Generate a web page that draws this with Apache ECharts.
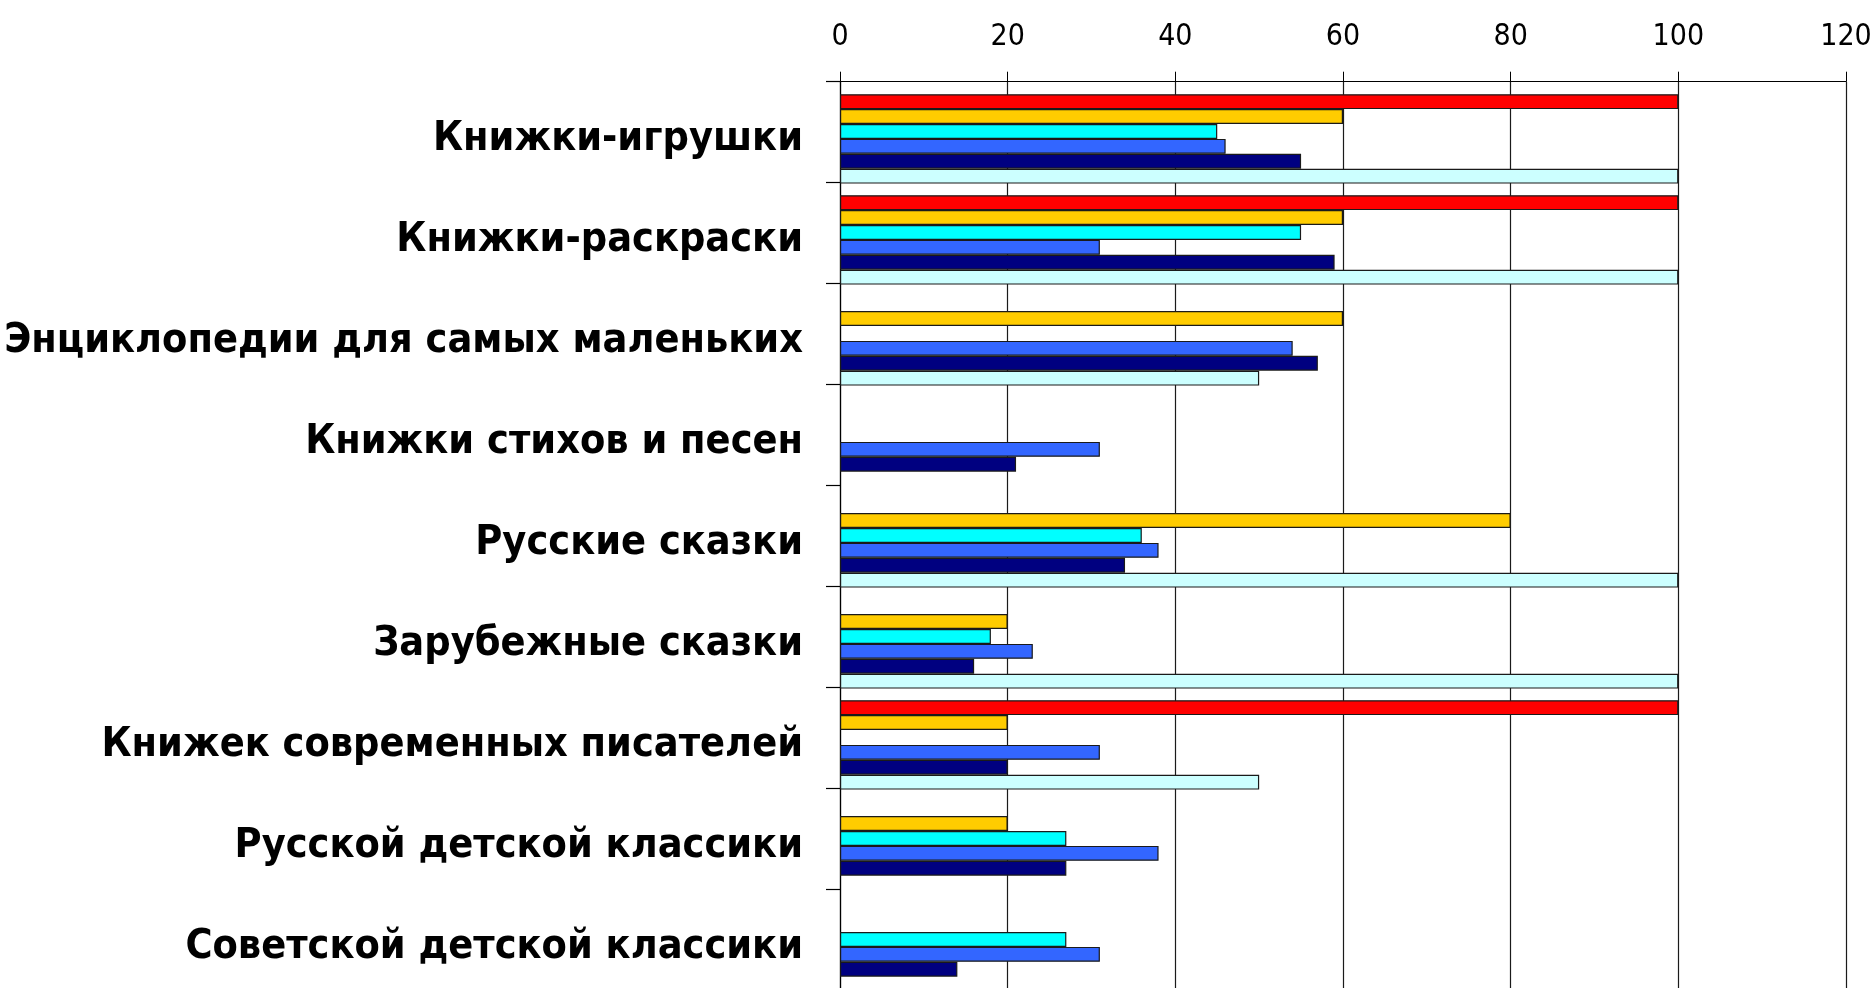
<!DOCTYPE html>
<html>
<head>
<meta charset="utf-8">
<script src="https://cdn.jsdelivr.net/npm/echarts@6/dist/echarts.min.js"></script>
<style>
html,body{margin:0;padding:0;background:#fff;}
#chart{width:1873px;height:988px;}
</style>
</head>
<body>
<div id="chart"></div>
<script>
var categories = [
  "Книжки-игрушки",
  "Книжки-раскраски",
  "Энциклопедии для самых маленьких",
  "Книжки стихов и песен",
  "Русские сказки",
  "Зарубежные сказки",
  "Книжек современных писателей",
  "Русской детской классики",
  "Советской детской классики"
];
var xTicks = [0, 20, 40, 60, 80, 100, 120];
var seriesRed       = [100, 100, null, null, null, null, 100, null, null];
var seriesGold      = [60, 60, 60, null, 80, 20, 20, 20, null];
var seriesCyan      = [45, 55, null, null, 36, 18, null, 27, 27];
var seriesBlue      = [46, 31, 54, 31, 38, 23, 31, 38, 31];
var seriesNavy      = [55, 59, 57, 21, 34, 16, 20, 27, 14];
var seriesLightCyan = [100, 100, 50, null, 100, 100, 50, null, null];

var seriesList = [
  {name: "Серия 1", data: seriesRed, color: "#FF0000"},
  {name: "Серия 2", data: seriesGold, color: "#FFCC00"},
  {name: "Серия 3", data: seriesCyan, color: "#00FFFF"},
  {name: "Серия 4", data: seriesBlue, color: "#3366FF"},
  {name: "Серия 5", data: seriesNavy, color: "#000080"},
  {name: "Серия 6", data: seriesLightCyan, color: "#CCFFFF"}
];

var FONT = "'Liberation Sans Narrow', 'Arial Narrow', 'DejaVu Sans Condensed', sans-serif";
var L = 840, R = 27, TOP = 81.7, BAND = 101, H = BAND * categories.length, SHIFT = 6.7;

var chart = echarts.init(document.getElementById('chart'), null, {renderer: 'canvas'});
chart.setOption({
  animation: false,
  backgroundColor: '#ffffff',
  grid: [
    {left: L, right: R, top: TOP, height: H, containLabel: false, outerBoundsMode: 'none'},
    {left: L, right: R, top: TOP + SHIFT, height: H, containLabel: false, outerBoundsMode: 'none'}
  ],
  xAxis: [
    {
      gridIndex: 0, type: 'value', position: 'top',
      min: xTicks[0], max: xTicks[xTicks.length - 1], interval: xTicks[1] - xTicks[0],
      axisLine: {show: true, lineStyle: {color: '#000', width: 1}},
      axisTick: {show: true, length: 10, inside: false, lineStyle: {color: '#000', width: 1}},
      axisLabel: {show: true, color: '#000', fontSize: 30, fontFamily: FONT, margin: 29},
      splitLine: {show: true, lineStyle: {color: '#1a1a1a', width: 1.2}}
    },
    {
      gridIndex: 1, type: 'value', position: 'top',
      min: xTicks[0], max: xTicks[xTicks.length - 1], interval: xTicks[1] - xTicks[0],
      show: false
    }
  ],
  yAxis: [
    {
      gridIndex: 0, type: 'category', inverse: true, data: categories,
      axisLine: {show: true, lineStyle: {color: '#000', width: 1.2}},
      axisTick: {show: true, length: 14, inside: false, lineStyle: {color: '#000', width: 1.2}},
      axisLabel: {show: false},
      splitLine: {show: false}
    },
    {
      gridIndex: 1, type: 'category', inverse: true, data: categories,
      axisLine: {show: false},
      axisTick: {show: false},
      axisLabel: {show: true, color: '#000', fontSize: 41, fontWeight: 'bold', fontFamily: FONT, margin: 37, interval: 0, padding: [3, 0, 0, 0]},
      splitLine: {show: false}
    }
  ],
  series: seriesList.map(function (s) {
    return {
      name: s.name,
      type: 'bar',
      xAxisIndex: 1,
      yAxisIndex: 1,
      data: s.data,
      barWidth: 14.9,
      barGap: '0%',
      itemStyle: {color: s.color, borderColor: '#1a1a1a', borderWidth: 1.2}
    };
  })
});
</script>
</body>
</html>
